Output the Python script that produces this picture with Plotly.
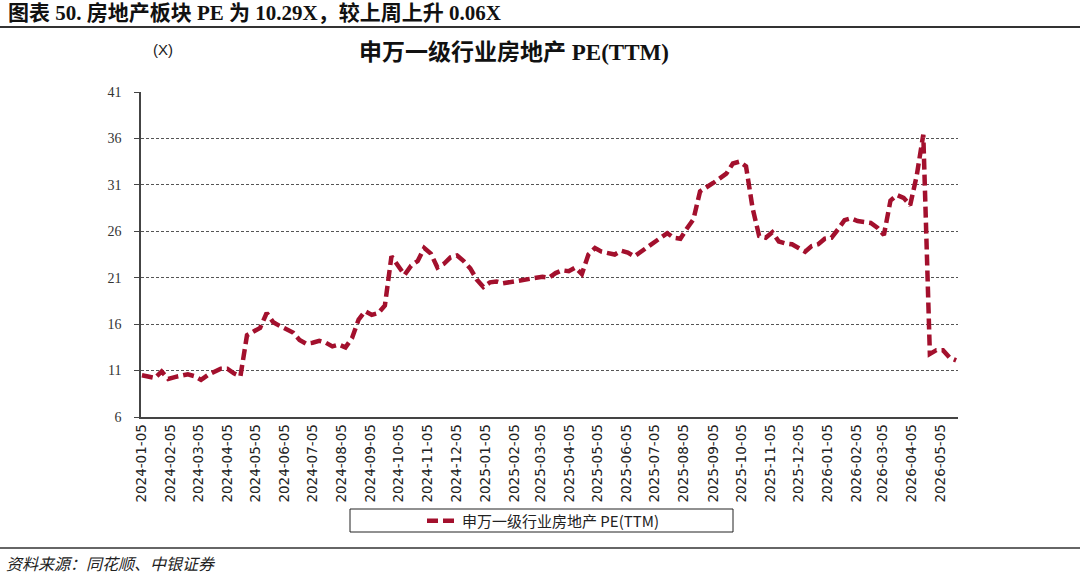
import pandas as pd
import plotly.graph_objects as go

pe = [
    10.5, 10.4, 10.2, 10.9, 10.1, 10.3, 10.4, 10.6, 10.4, 10.0,
    10.5, 10.9, 11.2, 11.2, 10.7, 10.4, 14.8, 15.2, 15.6, 17.2,
    16.2, 15.8, 15.5, 15.1, 14.3, 13.9, 14.0, 14.2, 14.0, 13.6,
    13.8, 13.5, 14.5, 16.5, 17.4, 17.0, 17.2, 18.0, 23.3, 22.3,
    21.3, 22.3, 22.8, 24.2, 23.6, 22.1, 22.5, 23.2, 23.4, 22.8,
    22.0, 20.8, 20.0, 20.5, 20.6, 20.4, 20.5, 20.6, 20.8, 20.9,
    20.9, 21.1, 21.0, 21.5, 21.8, 21.7, 22.1, 21.4, 23.5, 24.2,
    23.8, 23.6, 23.5, 23.9, 23.7, 23.3, 23.8, 24.4, 24.8, 25.3,
    25.8, 25.3, 25.2, 26.3, 27.3, 30.3, 30.7, 31.2, 31.7, 32.2,
    33.3, 33.5, 33.0, 28.5, 25.5, 25.3, 25.9, 24.9, 24.7, 24.6,
    24.2, 23.8, 24.4, 24.6, 25.2, 25.3, 26.2, 27.2, 27.4, 27.1,
    27.0, 26.9, 26.4, 25.6, 29.3, 29.9, 29.6, 28.8, 32.0, 36.4,
    12.8, 13.2, 13.2, 12.4, 12.1,
]
dates = pd.date_range("2024-01-05", periods=len(pe), freq="7D")

tick_text = [f"{y}-{m:02d}-05" for y in (2024, 2025, 2026) for m in range(1, 13)][:29]
y_ticks = [6, 11, 16, 21, 26, 31, 36, 41]

series_name = "申万一级行业房地产 PE(TTM)"
header = "图表 50. 房地产板块 PE 为 10.29X，较上周上升 0.06X"
chart_title = "申万一级行业房地产 PE(TTM)"
source = "资料来源：同花顺、中银证券"

W, H = 1080, 578
L, R, T, B = 141, 958, 92, 417


def px(x):
    return (x - L) / (R - L)


def py(y):
    return (B - y) / (B - T)


RED = "#A3102D"
SERIF = "Times New Roman, Liberation Serif, Noto Sans CJK SC"
SANS = "Arial, Liberation Sans, Noto Sans CJK SC"

fig = go.Figure()
fig.add_trace(go.Scatter(
    x=dates, y=pe, mode="lines", name=series_name,
    line=dict(color=RED, width=4.5, dash="11px,5px"),
))

fig.update_layout(
    width=W, height=H,
    margin=dict(l=L, r=W - R, t=T, b=H - B),
    paper_bgcolor="white", plot_bgcolor="white",
    showlegend=True,
    legend=dict(
        x=px(543), y=py(521), xanchor="center", yanchor="middle",
        font=dict(family="Noto Sans CJK SC", size=15, color="#222"),
        bgcolor="rgba(0,0,0,0)",
    ),
)

fig.update_xaxes(
    type="date",
    range=["2024-01-04", "2026-05-24"],
    tickvals=tick_text, ticktext=tick_text, tickangle=-90,
    tickfont=dict(family="DejaVu Sans", size=13.5, color="#222"),
    showgrid=False, showline=True, linecolor="#444", linewidth=1.5,
    ticks="", zeroline=False, ticklabeloverflow="allow",
)
fig.update_yaxes(
    range=[6, 41], tickvals=y_ticks,
    tickfont=dict(family=SERIF, size=14, color="#333"),
    showgrid=True, gridcolor="#555", gridwidth=1, griddash="3px,2px",
    showline=True, linecolor="#444", linewidth=1.5,
    ticks="outside", ticklen=5, tickcolor="#444", zeroline=False,
    ticklabelstandoff=10,
)

# header, chart title, unit and source
fig.add_annotation(x=px(6), y=py(13), xref="paper", yref="paper",
                   text="<b>" + header + "</b>", showarrow=False,
                   xanchor="left", yanchor="middle",
                   font=dict(family=SERIF, size=21, color="#111"))
fig.add_annotation(x=px(514), y=py(52), xref="paper", yref="paper",
                   text="<b>" + chart_title + "</b>", showarrow=False,
                   xanchor="center", yanchor="middle",
                   font=dict(family=SERIF, size=23, color="#111"))
fig.add_annotation(x=px(163), y=py(50), xref="paper", yref="paper",
                   text="(X)", showarrow=False,
                   xanchor="center", yanchor="middle",
                   font=dict(family=SANS, size=15, color="#222"))
fig.add_annotation(x=px(4), y=py(563), xref="paper", yref="paper",
                   text=source, showarrow=False,
                   xanchor="left", yanchor="middle",
                   font=dict(family="Noto Sans CJK SC", size=16, color="#222", style="italic"))

# rules and legend box
fig.add_shape(type="line", xref="paper", yref="paper",
              x0=px(0), x1=px(W), y0=py(27), y1=py(27),
              line=dict(color="#333", width=2))
fig.add_shape(type="line", xref="paper", yref="paper",
              x0=px(0), x1=px(W), y0=py(548), y1=py(548),
              line=dict(color="#666", width=2))
fig.add_shape(type="rect", xref="paper", yref="paper",
              x0=px(350), x1=px(733), y0=py(509), y1=py(532),
              line=dict(color="#222", width=1))

fig.write_html("out.html", config={"displayModeBar": False},
               post_script="document.body.style.margin='0';")
